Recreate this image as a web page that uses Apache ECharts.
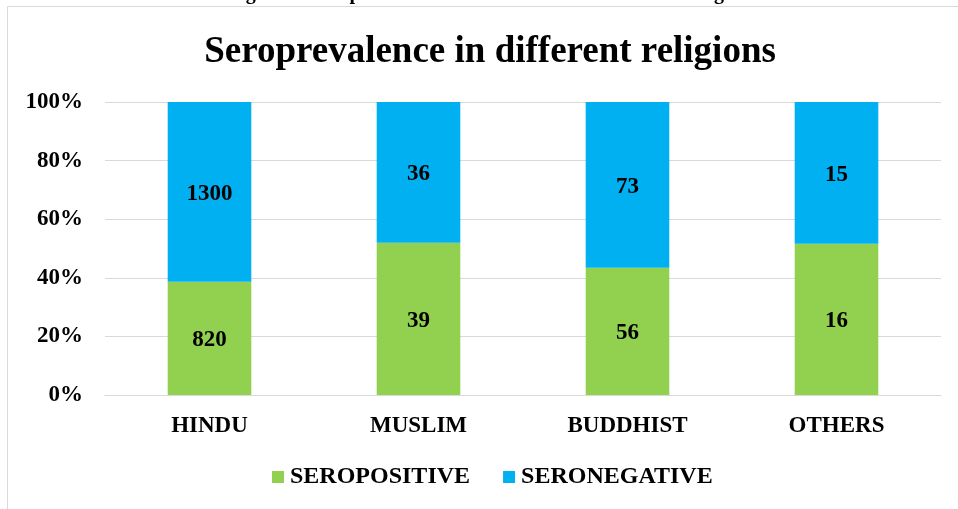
<!DOCTYPE html>
<html>
<head>
<meta charset="utf-8">
<script src="https://cdn.jsdelivr.net/npm/echarts@6/dist/echarts.min.js"></script>
<style>
html,body{margin:0;padding:0;background:#fff;}
#chart{width:958px;height:509px;}
</style>
</head>
<body>
<div id="chart"></div>
<script>
const categories = ['HINDU', 'MUSLIM', 'BUDDHIST', 'OTHERS'];
const seropositive = [820, 39, 56, 16];
const seronegative = [1300, 36, 73, 15];
const yTicks = [0, 20, 40, 60, 80, 100];

const FONT = '"Liberation Serif", "Times New Roman", serif';
const totals = categories.map((c, i) => seropositive[i] + seronegative[i]);
const posPct = seropositive.map((v, i) => ({ value: v / totals[i] * 100, count: v }));
const negPct = seronegative.map((v, i) => ({ value: v / totals[i] * 100, count: v }));

const labelStyle = {
  show: true,
  position: 'inside',
  offset: [0, 2],
  formatter: p => String(p.data.count),
  color: '#000',
  fontFamily: FONT,
  fontWeight: 'bold',
  fontSize: 23
};

const chart = echarts.init(document.getElementById('chart'), null, { renderer: 'canvas' });
chart.setOption({
  animation: false,
  backgroundColor: '#fff',
  title: {
    text: 'Seroprevalence in different religions',
    left: 485,
    top: 29,
    textAlign: 'center',
    textStyle: { fontFamily: FONT, fontWeight: 'bold', fontSize: 37, color: '#000' }
  },
  graphic: [
    {
      type: 'text',
      left: 228,
      top: -16,
      style: {
        text: 'Figure 4: Seroprevalence of SARS-CoV-2 in different religions',
        font: 'bold 20px ' + FONT,
        fill: '#000'
      }
    },
    {
      type: 'polyline',
      shape: { points: [[7.5, 509], [7.5, 6.5], [958, 6.5]] },
      style: { stroke: '#d9d9d9', lineWidth: 1, fill: null }
    }
  ],
  legend: {
    left: 272,
    top: 465,
    padding: 0,
    itemWidth: 12,
    itemHeight: 12,
    itemGap: 33,
    icon: 'rect',
    textStyle: { fontFamily: FONT, fontWeight: 'bold', fontSize: 24, color: '#000', padding: [0, 0, 0, 1] },
    data: ['SEROPOSITIVE', 'SERONEGATIVE']
  },
  grid: { left: 105, right: 17, top: 102, bottom: 114, containLabel: false },
  xAxis: {
    type: 'category',
    data: categories,
    axisTick: { show: false },
    axisLine: { show: true, lineStyle: { color: '#d9d9d9', width: 1 } },
    axisLabel: { margin: 20, fontFamily: FONT, fontWeight: 'bold', fontSize: 23, color: '#000' }
  },
  yAxis: {
    type: 'value',
    min: yTicks[0],
    max: yTicks[yTicks.length - 1],
    interval: 20,
    axisLine: { show: false },
    axisTick: { show: false },
    splitLine: { lineStyle: { color: '#d9d9d9', width: 1 } },
    axisLabel: { margin: 22, formatter: '{value}%', fontFamily: FONT, fontWeight: 'bold', fontSize: 23, color: '#000' }
  },
  series: [
    {
      name: 'SEROPOSITIVE',
      type: 'bar',
      stack: 'total',
      barWidth: '40%',
      data: posPct,
      itemStyle: { color: '#92D050' },
      label: labelStyle
    },
    {
      name: 'SERONEGATIVE',
      type: 'bar',
      stack: 'total',
      barWidth: '40%',
      data: negPct,
      itemStyle: { color: '#00B0F0' },
      label: labelStyle
    }
  ]
});
</script>
</body>
</html>
